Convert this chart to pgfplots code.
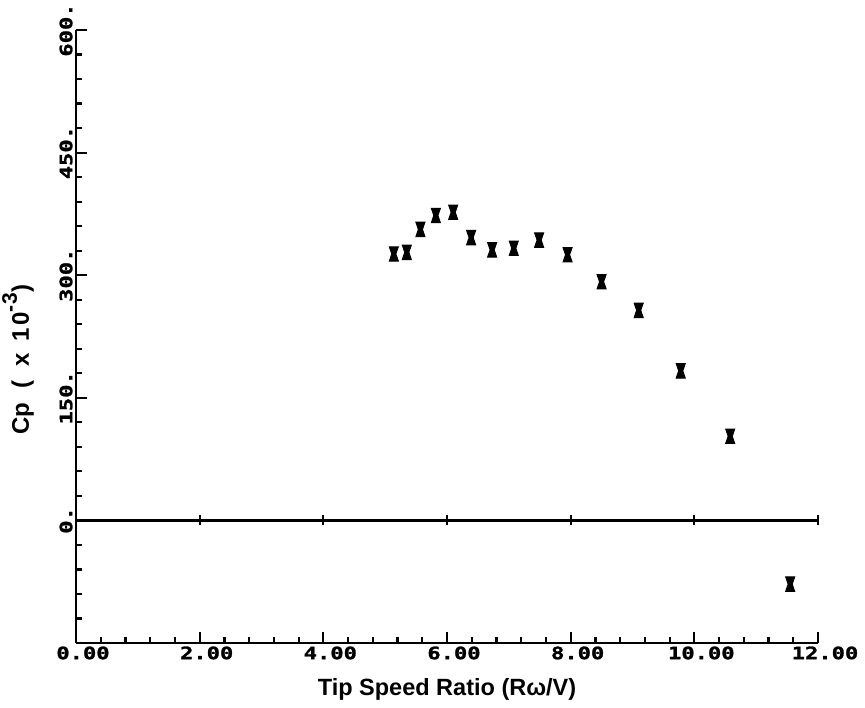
\documentclass[border=0pt]{standalone}
\usepackage{fontspec}
\setmainfont{Liberation Sans}
\newfontfamily\tickfont[FakeStretch=1.3, BoldFeatures={FakeBold=1.5}]{DejaVu Sans Mono}
\usepackage{pgfplots}
\pgfplotsset{compat=1.18}

% filled hourglass marker used for the measured points
\pgfdeclareplotmark{hourglass}{%
  \pgfpathmoveto{\pgfqpoint{-\pgfplotmarksize}{1.6\pgfplotmarksize}}%
  \pgfpathlineto{\pgfqpoint{\pgfplotmarksize}{1.6\pgfplotmarksize}}%
  \pgfpathlineto{\pgfqpoint{0.45\pgfplotmarksize}{0pt}}%
  \pgfpathlineto{\pgfqpoint{\pgfplotmarksize}{-1.6\pgfplotmarksize}}%
  \pgfpathlineto{\pgfqpoint{-\pgfplotmarksize}{-1.6\pgfplotmarksize}}%
  \pgfpathlineto{\pgfqpoint{-0.45\pgfplotmarksize}{0pt}}%
  \pgfpathclose
  \pgfusepathqfillstroke}

\begin{document}
\begin{tikzpicture}
\path[use as bounding box] (-76pt,-64pt) rectangle (789pt,643pt);
\begin{axis}[
  scale only axis,
  width=742pt, height=613pt,
  xmin=0, xmax=12, ymin=-150, ymax=600,
  axis lines=left,
  axis line style={-, line width=2.6pt},
  xtick={0,2,...,12},
  xticklabels={0.00,2.00,4.00,6.00,8.00,10.00,12.00},
  minor x tick num=4,
  ytick={-150,0,150,300,450,600},
  yticklabels={,0.,150.,300.,450.,600.},
  minor y tick num=4,
  tick align=inside,
  major tick length=11pt,
  minor tick length=6pt,
  every tick/.style={black, line width=2.2pt},
  tick label style={font=\fontsize{17}{18}\tickfont\bfseries},
  xticklabel style={anchor=north, xshift=7pt},
  yticklabel style={rotate=90, anchor=south},
  xlabel={Tip Speed Ratio (Rω/V)},
  xlabel style={font=\fontsize{23.5}{26}\selectfont\bfseries,
    at={(rel axis cs:0.5,0)}, anchor=base, yshift=-52pt},
  ylabel={Cp\hspace{14pt}(\hspace{14pt}x\hspace{12pt}1\hspace{2pt}0\raisebox{0.5em}{\fontsize{21}{22}\selectfont -\hspace{1pt}3})},
  ylabel style={font=\fontsize{24}{26}\selectfont\bfseries,
    at={(rel axis cs:-0.078,0.462)}, anchor=center},
  clip=false,
]
% reference line at Cp = 0
\addplot[black, line width=2.6pt, mark=|, mark size=5pt,
  mark indices={2,3,4,5,6,7}, mark options={line width=2.2pt}]
  coordinates {(0,0) (2,0) (4,0) (6,0) (8,0) (10,0) (12,0)};
% measured power coefficient
\addplot[only marks, mark=hourglass, mark size=4.5pt, black,
  mark options={line width=1pt}] coordinates {
  (5.14,326) (5.35,328) (5.57,356) (5.82,373) (6.10,377)
  (6.39,346) (6.73,331) (7.08,333) (7.49,343) (7.95,325)
  (8.50,292) (9.10,257) (9.78,183) (10.58,103) (11.55,-78)
};
\end{axis}
\end{tikzpicture}
\end{document}
